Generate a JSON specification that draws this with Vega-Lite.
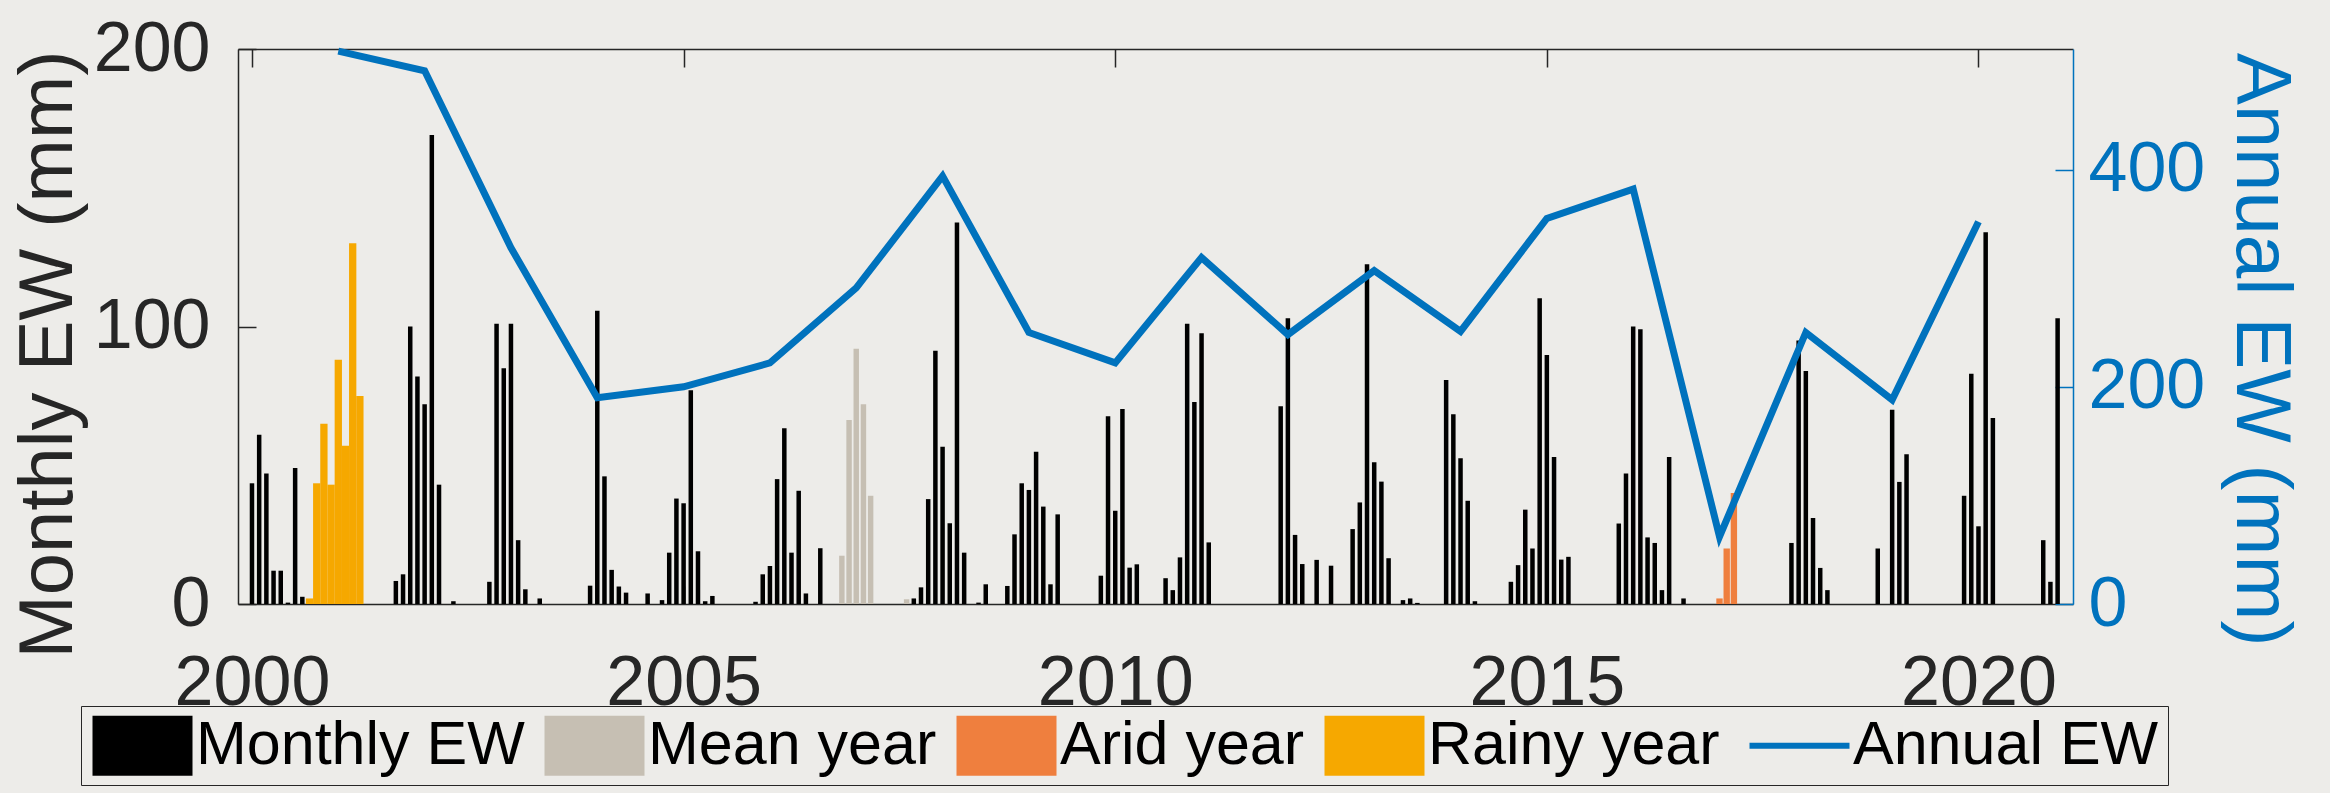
{
  "$schema": "https://vega.github.io/schema/vega-lite/v6.json",
  "width": 1835,
  "height": 555,
  "autosize": "none",
  "padding": {"left": 238, "top": 49, "right": 257, "bottom": 189},
  "background": "#EDECE9",
  "config": {"view": {"stroke": null}, "font": "Liberation Sans"},
  "datasets": {
    "monthly": [
      {"t": 2000.0, "v": 43.5, "s": "Monthly EW"},
      {"t": 2000.0833, "v": 61, "s": "Monthly EW"},
      {"t": 2000.1667, "v": 47, "s": "Monthly EW"},
      {"t": 2000.25, "v": 12, "s": "Monthly EW"},
      {"t": 2000.3333, "v": 12, "s": "Monthly EW"},
      {"t": 2000.4167, "v": 0.5, "s": "Monthly EW"},
      {"t": 2000.5, "v": 49, "s": "Monthly EW"},
      {"t": 2000.5833, "v": 2.6, "s": "Monthly EW"},
      {"t": 2000.6667, "v": 2, "s": "Rainy year"},
      {"t": 2000.75, "v": 43.5, "s": "Rainy year"},
      {"t": 2000.8333, "v": 65, "s": "Rainy year"},
      {"t": 2000.9167, "v": 43, "s": "Rainy year"},
      {"t": 2001.0, "v": 88, "s": "Rainy year"},
      {"t": 2001.0833, "v": 57, "s": "Rainy year"},
      {"t": 2001.1667, "v": 130, "s": "Rainy year"},
      {"t": 2001.25, "v": 75, "s": "Rainy year"},
      {"t": 2001.6667, "v": 8.3, "s": "Monthly EW"},
      {"t": 2001.75, "v": 10.7, "s": "Monthly EW"},
      {"t": 2001.8333, "v": 100, "s": "Monthly EW"},
      {"t": 2001.9167, "v": 82, "s": "Monthly EW"},
      {"t": 2002.0, "v": 72, "s": "Monthly EW"},
      {"t": 2002.0833, "v": 169, "s": "Monthly EW"},
      {"t": 2002.1667, "v": 43, "s": "Monthly EW"},
      {"t": 2002.3333, "v": 1, "s": "Monthly EW"},
      {"t": 2002.75, "v": 8, "s": "Monthly EW"},
      {"t": 2002.8333, "v": 101, "s": "Monthly EW"},
      {"t": 2002.9167, "v": 85, "s": "Monthly EW"},
      {"t": 2003.0, "v": 101, "s": "Monthly EW"},
      {"t": 2003.0833, "v": 23, "s": "Monthly EW"},
      {"t": 2003.1667, "v": 5.3, "s": "Monthly EW"},
      {"t": 2003.3333, "v": 2, "s": "Monthly EW"},
      {"t": 2003.9167, "v": 6.6, "s": "Monthly EW"},
      {"t": 2004.0, "v": 105.7, "s": "Monthly EW"},
      {"t": 2004.0833, "v": 46, "s": "Monthly EW"},
      {"t": 2004.1667, "v": 12.3, "s": "Monthly EW"},
      {"t": 2004.25, "v": 6.3, "s": "Monthly EW"},
      {"t": 2004.3333, "v": 4.1, "s": "Monthly EW"},
      {"t": 2004.5833, "v": 3.8, "s": "Monthly EW"},
      {"t": 2004.75, "v": 1.4, "s": "Monthly EW"},
      {"t": 2004.8333, "v": 18.5, "s": "Monthly EW"},
      {"t": 2004.9167, "v": 38, "s": "Monthly EW"},
      {"t": 2005.0, "v": 36.3, "s": "Monthly EW"},
      {"t": 2005.0833, "v": 77, "s": "Monthly EW"},
      {"t": 2005.1667, "v": 19, "s": "Monthly EW"},
      {"t": 2005.25, "v": 1, "s": "Monthly EW"},
      {"t": 2005.3333, "v": 2.9, "s": "Monthly EW"},
      {"t": 2005.8333, "v": 0.8, "s": "Monthly EW"},
      {"t": 2005.9167, "v": 10.7, "s": "Monthly EW"},
      {"t": 2006.0, "v": 13.7, "s": "Monthly EW"},
      {"t": 2006.0833, "v": 45, "s": "Monthly EW"},
      {"t": 2006.1667, "v": 63.3, "s": "Monthly EW"},
      {"t": 2006.25, "v": 18.5, "s": "Monthly EW"},
      {"t": 2006.3333, "v": 40.8, "s": "Monthly EW"},
      {"t": 2006.4167, "v": 3.8, "s": "Monthly EW"},
      {"t": 2006.5833, "v": 20.1, "s": "Monthly EW"},
      {"t": 2006.8333, "v": 17.4, "s": "Mean year"},
      {"t": 2006.9167, "v": 66.3, "s": "Mean year"},
      {"t": 2007.0, "v": 92, "s": "Mean year"},
      {"t": 2007.0833, "v": 72, "s": "Mean year"},
      {"t": 2007.1667, "v": 39, "s": "Mean year"},
      {"t": 2007.5833, "v": 1.7, "s": "Mean year"},
      {"t": 2007.6667, "v": 2, "s": "Monthly EW"},
      {"t": 2007.75, "v": 6, "s": "Monthly EW"},
      {"t": 2007.8333, "v": 37.8, "s": "Monthly EW"},
      {"t": 2007.9167, "v": 91.3, "s": "Monthly EW"},
      {"t": 2008.0, "v": 56.7, "s": "Monthly EW"},
      {"t": 2008.0833, "v": 29.1, "s": "Monthly EW"},
      {"t": 2008.1667, "v": 137.5, "s": "Monthly EW"},
      {"t": 2008.25, "v": 18.5, "s": "Monthly EW"},
      {"t": 2008.4167, "v": 0.5, "s": "Monthly EW"},
      {"t": 2008.5, "v": 7.1, "s": "Monthly EW"},
      {"t": 2008.75, "v": 6.5, "s": "Monthly EW"},
      {"t": 2008.8333, "v": 25.1, "s": "Monthly EW"},
      {"t": 2008.9167, "v": 43.5, "s": "Monthly EW"},
      {"t": 2009.0, "v": 41.1, "s": "Monthly EW"},
      {"t": 2009.0833, "v": 54.9, "s": "Monthly EW"},
      {"t": 2009.1667, "v": 35.1, "s": "Monthly EW"},
      {"t": 2009.25, "v": 7.1, "s": "Monthly EW"},
      {"t": 2009.3333, "v": 32.3, "s": "Monthly EW"},
      {"t": 2009.8333, "v": 10.2, "s": "Monthly EW"},
      {"t": 2009.9167, "v": 67.7, "s": "Monthly EW"},
      {"t": 2010.0, "v": 33.6, "s": "Monthly EW"},
      {"t": 2010.0833, "v": 70.3, "s": "Monthly EW"},
      {"t": 2010.1667, "v": 13.1, "s": "Monthly EW"},
      {"t": 2010.25, "v": 14.3, "s": "Monthly EW"},
      {"t": 2010.5833, "v": 9.3, "s": "Monthly EW"},
      {"t": 2010.6667, "v": 5, "s": "Monthly EW"},
      {"t": 2010.75, "v": 16.8, "s": "Monthly EW"},
      {"t": 2010.8333, "v": 101, "s": "Monthly EW"},
      {"t": 2010.9167, "v": 72.8, "s": "Monthly EW"},
      {"t": 2011.0, "v": 97.6, "s": "Monthly EW"},
      {"t": 2011.0833, "v": 22.2, "s": "Monthly EW"},
      {"t": 2011.9167, "v": 71.3, "s": "Monthly EW"},
      {"t": 2012.0, "v": 103, "s": "Monthly EW"},
      {"t": 2012.0833, "v": 24.9, "s": "Monthly EW"},
      {"t": 2012.1667, "v": 14.4, "s": "Monthly EW"},
      {"t": 2012.3333, "v": 15.9, "s": "Monthly EW"},
      {"t": 2012.5, "v": 13.8, "s": "Monthly EW"},
      {"t": 2012.75, "v": 27, "s": "Monthly EW"},
      {"t": 2012.8333, "v": 36.6, "s": "Monthly EW"},
      {"t": 2012.9167, "v": 122.4, "s": "Monthly EW"},
      {"t": 2013.0, "v": 51.1, "s": "Monthly EW"},
      {"t": 2013.0833, "v": 44.1, "s": "Monthly EW"},
      {"t": 2013.1667, "v": 16.5, "s": "Monthly EW"},
      {"t": 2013.3333, "v": 1.4, "s": "Monthly EW"},
      {"t": 2013.4167, "v": 2, "s": "Monthly EW"},
      {"t": 2013.5, "v": 0.4, "s": "Monthly EW"},
      {"t": 2013.8333, "v": 80.7, "s": "Monthly EW"},
      {"t": 2013.9167, "v": 68.4, "s": "Monthly EW"},
      {"t": 2014.0, "v": 52.5, "s": "Monthly EW"},
      {"t": 2014.0833, "v": 37.2, "s": "Monthly EW"},
      {"t": 2014.1667, "v": 1, "s": "Monthly EW"},
      {"t": 2014.5833, "v": 8, "s": "Monthly EW"},
      {"t": 2014.6667, "v": 14, "s": "Monthly EW"},
      {"t": 2014.75, "v": 34, "s": "Monthly EW"},
      {"t": 2014.8333, "v": 20, "s": "Monthly EW"},
      {"t": 2014.9167, "v": 110.2, "s": "Monthly EW"},
      {"t": 2015.0, "v": 89.7, "s": "Monthly EW"},
      {"t": 2015.0833, "v": 53, "s": "Monthly EW"},
      {"t": 2015.1667, "v": 16, "s": "Monthly EW"},
      {"t": 2015.25, "v": 17, "s": "Monthly EW"},
      {"t": 2015.8333, "v": 29, "s": "Monthly EW"},
      {"t": 2015.9167, "v": 47, "s": "Monthly EW"},
      {"t": 2016.0, "v": 100, "s": "Monthly EW"},
      {"t": 2016.0833, "v": 99, "s": "Monthly EW"},
      {"t": 2016.1667, "v": 24, "s": "Monthly EW"},
      {"t": 2016.25, "v": 22, "s": "Monthly EW"},
      {"t": 2016.3333, "v": 5, "s": "Monthly EW"},
      {"t": 2016.4167, "v": 53, "s": "Monthly EW"},
      {"t": 2016.5833, "v": 2, "s": "Monthly EW"},
      {"t": 2017.0, "v": 2, "s": "Arid year"},
      {"t": 2017.0833, "v": 20, "s": "Arid year"},
      {"t": 2017.1667, "v": 40, "s": "Arid year"},
      {"t": 2017.8333, "v": 22, "s": "Monthly EW"},
      {"t": 2017.9167, "v": 95, "s": "Monthly EW"},
      {"t": 2018.0, "v": 84, "s": "Monthly EW"},
      {"t": 2018.0833, "v": 31, "s": "Monthly EW"},
      {"t": 2018.1667, "v": 13, "s": "Monthly EW"},
      {"t": 2018.25, "v": 5, "s": "Monthly EW"},
      {"t": 2018.8333, "v": 20, "s": "Monthly EW"},
      {"t": 2019.0, "v": 70, "s": "Monthly EW"},
      {"t": 2019.0833, "v": 44, "s": "Monthly EW"},
      {"t": 2019.1667, "v": 54, "s": "Monthly EW"},
      {"t": 2019.8333, "v": 39, "s": "Monthly EW"},
      {"t": 2019.9167, "v": 83, "s": "Monthly EW"},
      {"t": 2020.0, "v": 28, "s": "Monthly EW"},
      {"t": 2020.0833, "v": 134, "s": "Monthly EW"},
      {"t": 2020.1667, "v": 67, "s": "Monthly EW"},
      {"t": 2020.75, "v": 23, "s": "Monthly EW"},
      {"t": 2020.8333, "v": 8, "s": "Monthly EW"},
      {"t": 2020.9167, "v": 103, "s": "Monthly EW"}
    ],
    "annual": [
      {"t": 2001, "ew": 509, "s": "Annual EW"},
      {"t": 2002, "ew": 491, "s": "Annual EW"},
      {"t": 2003, "ew": 328, "s": "Annual EW"},
      {"t": 2004, "ew": 190, "s": "Annual EW"},
      {"t": 2005, "ew": 200, "s": "Annual EW"},
      {"t": 2006, "ew": 222, "s": "Annual EW"},
      {"t": 2007, "ew": 291, "s": "Annual EW"},
      {"t": 2008, "ew": 394, "s": "Annual EW"},
      {"t": 2009, "ew": 250, "s": "Annual EW"},
      {"t": 2010, "ew": 222, "s": "Annual EW"},
      {"t": 2011, "ew": 319, "s": "Annual EW"},
      {"t": 2012, "ew": 248, "s": "Annual EW"},
      {"t": 2013, "ew": 307, "s": "Annual EW"},
      {"t": 2014, "ew": 251, "s": "Annual EW"},
      {"t": 2015, "ew": 355, "s": "Annual EW"},
      {"t": 2016, "ew": 382, "s": "Annual EW"},
      {"t": 2017, "ew": 62, "s": "Annual EW"},
      {"t": 2018, "ew": 250, "s": "Annual EW"},
      {"t": 2019, "ew": 188, "s": "Annual EW"},
      {"t": 2020, "ew": 352, "s": "Annual EW"}
    ]
  },
  "layer": [
    {
      "data": {"name": "monthly"},
      "mark": {"type": "bar"},
      "encoding": {
        "x": {
          "field": "t", "type": "quantitative",
          "scale": {"domain": [1999.896, 2021.037], "nice": false, "zero": false},
          "axis": {
            "orient": "bottom", "values": [2000, 2005, 2010, 2015, 2020], "format": "d",
            "title": null, "grid": false,
            "labelFontSize": 70, "labelColor": "#262626",
            "domainColor": "#262626", "domainWidth": 1.5,
            "tickColor": "#262626", "tickSize": -18, "tickWidth": 1.5,
            "labelPadding": 63, "labelFlush": false
          }
        },
        "y": {
          "field": "v", "type": "quantitative",
          "scale": {"domain": [0, 200], "nice": false},
          "axis": {
            "orient": "left", "values": [0, 100, 200], "grid": false,
            "title": "Monthly EW  (mm)", "titleFontSize": 76, "titleFontWeight": "normal",
            "titleColor": "#262626", "titlePadding": 6, "titleY": 305,
            "labelFontSize": 70, "labelColor": "#262626",
            "domainColor": "#262626", "domainWidth": 1.5,
            "tickColor": "#262626", "tickSize": -18, "tickWidth": 1.5,
            "labelPadding": 46
          }
        },
        "color": {
          "field": "s", "type": "nominal",
          "scale": {
            "domain": ["Monthly EW", "Mean year", "Arid year", "Rainy year", "Annual EW"],
            "range": ["#000000", "#C6BFB3", "#EF7F3E", "#F6A800", "#0072BD"]
          },
          "legend": {
            "orient": "none", "legendX": -157, "legendY": 657,
            "direction": "horizontal", "columns": 5, "title": null,
            "labelFontSize": 61, "labelColor": "#000000", "labelFont": "Liberation Sans",
            "labelLimit": 0,
            "symbolSize": 10000, "symbolOffset": 22, "labelOffset": 23, "columnPadding": 17, "padding": 9,
            "strokeColor": "#262626", "fillColor": "#EDECE9",
            "symbolType": "M-1,-0.6H1V0.6H-1Z",
            "encode": {
              "symbols": {
                "update": {
                  "shape": {"signal": "datum.value === 'Annual EW' ? 'stroke' : 'M-1,-0.6H1V0.6H-1Z'"},
                  "fill": {"signal": "scale('color', datum.value)"},
                  "stroke": {"signal": "scale('color', datum.value)"},
                  "strokeWidth": {"signal": "datum.value === 'Annual EW' ? 6 : 0"},
                  "opacity": {"value": 1}
                }
              }
            }
          }
        },
        "size": {
          "field": "s", "type": "nominal",
          "scale": {"domain": ["Monthly EW", "Mean year", "Arid year", "Rainy year"], "range": [4.5, 7.3, 7.3, 7.3]},
          "legend": null
        }
      }
    },
    {
      "data": {"name": "annual"},
      "mark": {"type": "line", "strokeWidth": 7},
      "encoding": {
        "x": {
          "field": "t", "type": "quantitative",
          "scale": {"domain": [1999.896, 2021.037], "nice": false, "zero": false},
          "axis": {
            "orient": "top", "values": [2000, 2005, 2010, 2015, 2020], "labels": false,
            "title": null, "grid": false,
            "domainColor": "#262626", "domainWidth": 1.5,
            "tickColor": "#262626", "tickSize": -18, "tickWidth": 1.5
          }
        },
        "y": {
          "field": "ew", "type": "quantitative",
          "scale": {"domain": [0, 511], "nice": false},
          "axis": {
            "orient": "right", "values": [0, 200, 400], "grid": false,
            "title": "Annual EW (mm)", "titleFontSize": 78, "titleFontWeight": "normal",
            "titleColor": "#0072BD", "titlePadding": 16, "titleY": 300,
            "labelFontSize": 70, "labelColor": "#0072BD",
            "domainColor": "#0072BD", "domainWidth": 1.5,
            "tickColor": "#0072BD", "tickSize": -18, "tickWidth": 1.5,
            "labelPadding": 33
          }
        },
        "color": {"field": "s", "type": "nominal"}
      }
    }
  ],
  "resolve": {"scale": {"y": "independent"}, "axis": {"x": "independent"}}
}
